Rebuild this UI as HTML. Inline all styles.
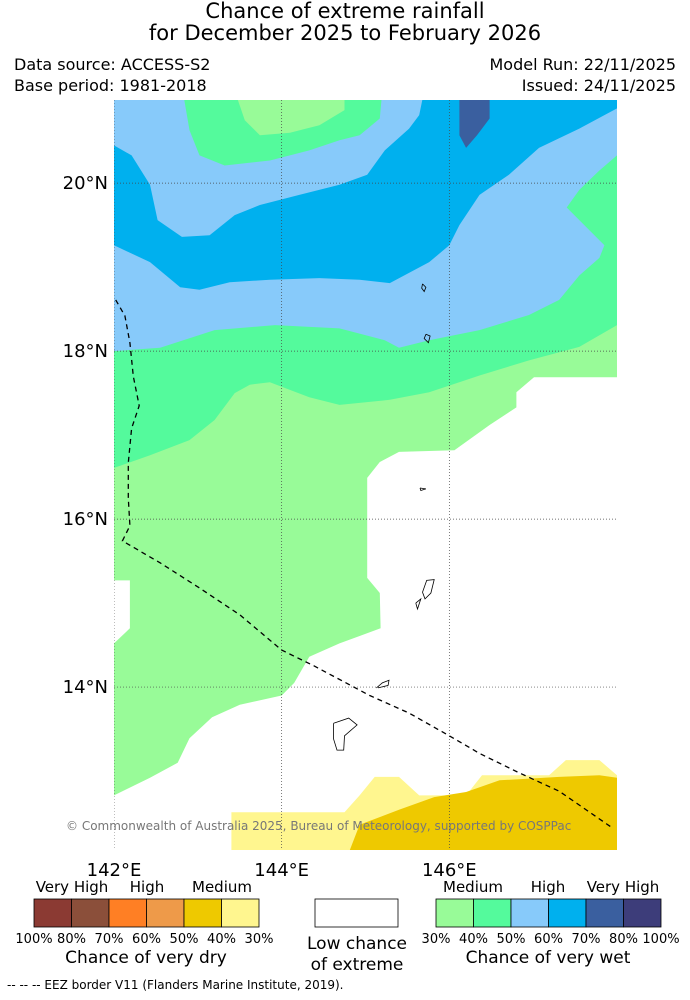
<!DOCTYPE html>
<html><head><meta charset="utf-8"><style>
body{margin:0;background:#fff;}
svg{display:block;font-family:"DejaVu Sans","Liberation Sans",sans-serif;}
</style></head><body>
<svg id="chart" width="690" height="1000" viewBox="0 0 690 1000" xmlns="http://www.w3.org/2000/svg">
<text x="345" y="18" font-size="21" text-anchor="middle">Chance of extreme rainfall</text>
<text x="345" y="40" font-size="21" text-anchor="middle">for December 2025 to February 2026</text>
<text x="14" y="70" font-size="16">Data source: ACCESS-S2</text>
<text x="14" y="91" font-size="16">Base period: 1981-2018</text>
<text x="676" y="70" font-size="16" text-anchor="end">Model Run: 22/11/2025</text>
<text x="676" y="91" font-size="16" text-anchor="end">Issued: 24/11/2025</text>
<defs><clipPath id="mapclip"><rect x="114" y="100" width="503" height="750"/></clipPath></defs>
<g id="map" clip-path="url(#mapclip)"></g>
<g id="axes"></g>
<text x="66" y="830" font-size="12" fill="#777">© Commonwealth of Australia 2025, Bureau of Meteorology, supported by COSPPac</text>
<g id="legend"></g>
<text x="7" y="989" font-size="12">--  --  -- EEZ border V11 (Flanders Marine Institute, 2019).</text>
</svg>
<script>
// Contour regions as [lon, lat]
const regionColors = {lgreen:'#98fb98', mgreen:'#54fa9c', lblue:'#87cafa', blue:'#00b0ee', dblue:'#3a5f9f', yellow:'#fff68f', gold:'#eec900', white:'#ffffff'};
const whiteRegion = [[148,17.69],[147.01,17.69],[146.8,17.51],[146.8,17.33],[146.48,17.12],[146.06,16.82],[145.4,16.80],[145.17,16.68],[145.02,16.49],[145.02,15.30],[145.17,15.12],[145.18,14.70],[144.69,14.52],[144.33,14.36],[144.15,14.05],[144.0,13.90],[143.5,13.79],[143.17,13.64],[142.9,13.39],[142.76,13.10],[142.43,12.92],[142,12.71],[142,12.0],[148,12.0]];
const whiteNotch = [[142,15.27],[142.19,15.27],[142.19,14.70],[142,14.52]];
const yellowRegion = [[143.4,12.51],[143.4,12.0],[148,12.0],[148,12.95],[147.79,13.13],[147.39,13.13],[147.19,12.95],[146.39,12.95],[146.2,12.71],[145.64,12.71],[145.4,12.93],[145.11,12.93],[144.93,12.71],[144.75,12.51]];
const goldRegion = [[144.79,12.0],[144.93,12.36],[145.4,12.54],[145.82,12.69],[146.2,12.75],[146.6,12.89],[147.31,12.93],[147.79,12.95],[148,12.92],[148,12.0]];
const mgreenRegion = [[142,21.1],[142,16.61],[142.43,16.76],[142.9,16.94],[143.2,17.18],[143.44,17.50],[143.62,17.60],[143.86,17.63],[144.33,17.45],[144.69,17.36],[145.29,17.42],[145.76,17.51],[146.36,17.71],[146.95,17.89],[147.55,18.05],[148,18.31],[148,21.1]];
const lblueRegion = [[142,21.1],[142,18.0],[142.55,18.04],[143.2,18.25],[143.92,18.31],[144.69,18.27],[145.23,18.13],[145.4,18.04],[145.76,18.13],[146.36,18.25],[146.95,18.43],[147.31,18.61],[147.55,18.90],[147.79,19.11],[147.85,19.26],[147.61,19.50],[147.4,19.71],[147.55,19.92],[147.79,20.15],[148,20.33],[148,21.1]];
const blueRegion = [[142,20.45],[142.21,20.33],[142.43,19.98],[142.52,19.56],[142.81,19.36],[143.14,19.38],[143.44,19.62],[143.74,19.74],[144.21,19.86],[144.69,19.98],[145.02,20.10],[145.23,20.39],[145.52,20.65],[145.64,20.81],[145.7,21.1],[148,21.1],[148,20.89],[147.55,20.65],[147.07,20.42],[146.71,20.10],[146.36,19.86],[146.12,19.50],[146.0,19.26],[145.76,19.06],[145.29,18.81],[144.93,18.85],[144.45,18.87],[143.86,18.85],[143.38,18.82],[143.02,18.73],[142.79,18.76],[142.43,19.06],[142,19.26]];
const mgreenTop = [[142.82,21.1],[142.9,20.63],[143.02,20.33],[143.32,20.21],[143.86,20.27],[144.33,20.39],[144.69,20.51],[144.93,20.57],[145.17,20.77],[145.2,21.1]];
const lgreenTop = [[143.44,21.1],[143.56,20.75],[143.74,20.57],[144.1,20.60],[144.45,20.69],[144.75,20.87],[144.75,21.1]];
const dblueRegion = [[146.12,21.1],[146.12,20.57],[146.2,20.42],[146.33,20.57],[146.48,20.77],[146.48,21.1]];
const eezLine = [[142.02,18.61],[142.13,18.42],[142.19,18.1],[142.23,17.70],[142.30,17.35],[142.21,17.08],[142.17,16.67],[142.17,16.25],[142.19,15.92],[142.1,15.74],[142.55,15.48],[143.02,15.18],[143.5,14.86],[144.0,14.44],[144.39,14.25],[145.05,13.90],[145.52,13.69],[146.0,13.42],[146.36,13.21],[146.83,12.98],[147.31,12.76],[147.95,12.32]];
const lonTicks = [142,144,146];
const latTicks = [14,16,18,20];
const lonMin=142, lonMax=148, latMin=12.06, latMax=20.99;
const X0=114, X1=617, Y0=100, Y1=850;
const px = lon => X0 + (lon-lonMin)/(lonMax-lonMin)*(X1-X0);
const py = lat => Y1 - (lat-latMin)/(latMax-latMin)*(Y1-Y0);
const NS='http://www.w3.org/2000/svg';
const map=document.getElementById('map'), axes=document.getElementById('axes'), legend=document.getElementById('legend');
function mk(tag, attrs, parent){const e=document.createElementNS(NS,tag);for(const k in attrs)e.setAttribute(k,attrs[k]);parent.appendChild(e);return e;}
const pts = arr => arr.map(p=>px(p[0]).toFixed(1)+','+py(p[1]).toFixed(1)).join(' ');
let bg=mk('rect',{x:X0,y:Y0,width:X1-X0,height:Y1-Y0,fill:regionColors.lgreen},map);


const layers=[[whiteRegion,'white','region-low-chance'],[whiteNotch,'white','region-low-chance-notch'],[yellowRegion,'yellow','region-30-40-dry'],[goldRegion,'gold','region-40-50-dry'],[mgreenRegion,'mgreen','region-40-50-wet'],[lblueRegion,'lblue','region-50-60-wet'],[blueRegion,'blue','region-60-70-wet'],[mgreenTop,'mgreen','region-40-50-wet-north'],[lgreenTop,'lgreen','region-30-40-wet-north'],[dblueRegion,'dblue','region-70-80-wet']];
layers.forEach(l=>{
  const e=mk('polygon',{points:pts(l[0]),fill:regionColors[l[1]]},map);
  
  
});
const islands=[[[144.62,13.57],[144.8,13.63],[144.9,13.55],[144.75,13.42],[144.74,13.25],[144.66,13.25],[144.62,13.38],[144.62,13.57]],[[145.13,13.99],[145.2,14.05],[145.28,14.08],[145.27,14.02],[145.15,13.99]],[[145.68,15.13],[145.73,15.27],[145.82,15.28],[145.78,15.12],[145.71,15.05],[145.68,15.13]],[[145.6,15.0],[145.66,15.05],[145.62,14.93],[145.6,15.0]],[[145.68,18.80],[145.72,18.76],[145.7,18.71],[145.67,18.75],[145.68,18.80]],[[145.72,18.20],[145.77,18.18],[145.75,18.10],[145.7,18.15],[145.72,18.20]],[[145.65,16.37],[145.72,16.36],[145.66,16.34],[145.65,16.37]]];
islands.forEach(p=>{const e=mk('polyline',{points:pts(p),fill:'none',stroke:'#000','stroke-width':0.8},map);
  
  });
lonTicks.forEach(v=>{const e=mk('line',{x1:px(v),x2:px(v),y1:Y0,y2:Y1,stroke:'#444','stroke-width':0.7,'stroke-dasharray':'1,2'},map);
  
  
  const t=mk('text',{x:px(v),y:876,'font-size':18,'text-anchor':'middle'},axes);t.textContent=v+'°E';
  
  });
latTicks.forEach(v=>{const e=mk('line',{x1:X0,x2:X1,y1:py(v),y2:py(v),stroke:'#444','stroke-width':0.7,'stroke-dasharray':'1,2'},map);
  
  
  const t=mk('text',{x:108,y:py(v)+6,'font-size':18,'text-anchor':'end'},axes);t.textContent=v+'°N';
  
  });
const eez=mk('polyline',{points:pts(eezLine),fill:'none',stroke:'#000','stroke-width':1.3,'stroke-dasharray':'5,4'},map);


const dryColors=['#8b3a33','#8b4f3a','#ff7f24','#ee9a49','#eec900','#fff68f'];
const wetColors=['#98fb98','#54fa9c','#87cafa','#00b0ee','#3a5f9f','#3d3d7a'];
const dryLabels=['100%','80%','70%','60%','50%','40%','30%'];
const wetLabels=['30%','40%','50%','60%','70%','80%','100%'];
function bar(x0,colors,labels,name){const w=37.5;
  colors.forEach((c,i)=>{const r=mk('rect',{x:x0+i*w,y:899,width:w,height:28,fill:c,stroke:'#000','stroke-width':0.8},legend);
    
    });
  labels.forEach((l,i)=>{const t=mk('text',{x:x0+i*w,y:943,'font-size':13,'text-anchor':'middle'},legend);t.textContent=l;
    
    });}
bar(34,dryColors,dryLabels,'dry-legend');
bar(436,wetColors,wetLabels,'wet-legend');
const wb=mk('rect',{x:315,y:899,width:83,height:28,fill:'#fff',stroke:'#000','stroke-width':0.8},legend);


const texts=[[72,892,15,'Very High','dry-very-high-label'],[147,892,15,'High','dry-high-label'],[222,892,15,'Medium','dry-medium-label'],[473,892,15,'Medium','wet-medium-label'],[548,892,15,'High','wet-high-label'],[623,892,15,'Very High','wet-very-high-label'],[146,963,17,'Chance of very dry','dry-legend-title'],[548,963,17,'Chance of very wet','wet-legend-title'],[357,949,17,'Low chance','low-chance-title-1'],[357,970,17,'of extreme','low-chance-title-2']];
texts.forEach(a=>{const t=mk('text',{x:a[0],y:a[1],'font-size':a[2],'text-anchor':'middle'},legend);t.textContent=a[3];
  
  });
</script>
</body></html>
